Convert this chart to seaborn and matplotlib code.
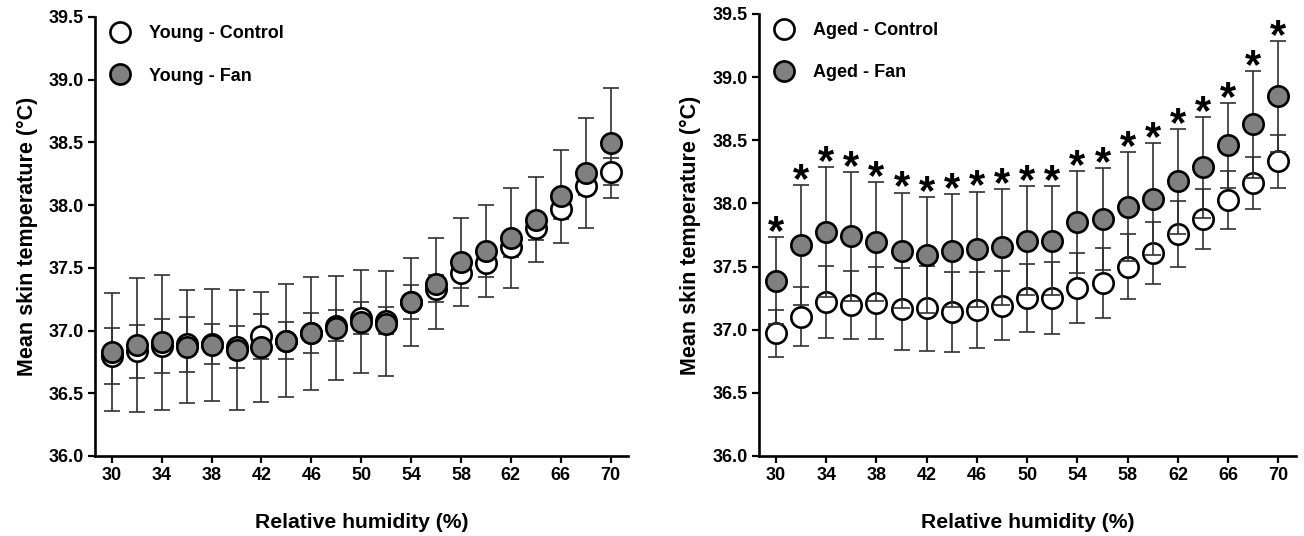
import numpy as np
import matplotlib
matplotlib.use("Agg")
import matplotlib.pyplot as plt
import seaborn as sns
from matplotlib.lines import Line2D

# relative humidity steps (%)
rh = [30, 32, 34, 36, 38, 40, 42, 44, 46, 48, 50, 52, 54, 56, 58, 60, 62, 64, 66, 68, 70]

# young group
young_ctrl = [36.795, 36.835, 36.88, 36.89, 36.895, 36.87, 36.955, 36.92, 36.98, 37.04, 37.10,
              37.08, 37.225, 37.335, 37.457, 37.537, 37.67, 37.816, 37.967, 38.156, 38.267]
young_ctrl_sd = [0.225, 0.21, 0.215, 0.22, 0.16, 0.17, 0.18, 0.145, 0.16, 0.12, 0.13,
                 0.11, 0.135, 0.105, 0.12, 0.107, 0.08, 0.096, 0.077, 0.076, 0.11]
young_fan = [36.83, 36.885, 36.905, 36.87, 36.885, 36.845, 36.87, 36.92, 36.98, 37.02, 37.07,
             37.055, 37.23, 37.375, 37.545, 37.635, 37.74, 37.885, 38.07, 38.255, 38.495]
young_fan_sd = [0.47, 0.535, 0.54, 0.45, 0.445, 0.475, 0.44, 0.45, 0.45, 0.415, 0.41,
                0.42, 0.35, 0.365, 0.35, 0.37, 0.40, 0.34, 0.37, 0.44, 0.44]

# aged group
aged_ctrl = [36.972, 37.104, 37.222, 37.198, 37.21, 37.165, 37.17, 37.137, 37.155, 37.19, 37.25,
             37.25, 37.329, 37.368, 37.5, 37.606, 37.757, 37.878, 38.029, 38.161, 38.332]
aged_ctrl_sd = [0.185, 0.237, 0.285, 0.27, 0.285, 0.325, 0.337, 0.316, 0.30, 0.275, 0.27,
                0.287, 0.275, 0.277, 0.258, 0.246, 0.26, 0.24, 0.23, 0.205, 0.207]
aged_fan = [37.389, 37.672, 37.772, 37.738, 37.698, 37.627, 37.593, 37.627, 37.638, 37.654, 37.706,
            37.706, 37.849, 37.875, 37.975, 38.036, 38.174, 38.285, 38.459, 38.628, 38.847]
aged_fan_sd = [0.344, 0.475, 0.513, 0.507, 0.468, 0.459, 0.457, 0.447, 0.456, 0.462, 0.428,
               0.434, 0.404, 0.405, 0.431, 0.442, 0.417, 0.399, 0.336, 0.423, 0.436]
aged_sig = [True] * 21

x_ticks = [30, 34, 38, 42, 46, 50, 54, 58, 62, 66, 70]
y_ticks = [36.0, 36.5, 37.0, 37.5, 38.0, 38.5, 39.0, 39.5]

sns.set_theme(style="ticks")
plt.rcParams['font.family'] = ['Liberation Sans', 'DejaVu Sans']
plt.rcParams['font.weight'] = 'bold'
plt.rcParams['axes.labelweight'] = 'bold'
plt.rcParams['text.color'] = 'black'
plt.rcParams['axes.labelcolor'] = 'black'

GRAY = '#808080'
BAR = '#303030'

fig = plt.figure(figsize=(13.04, 5.36), dpi=100)
ax1 = fig.add_axes([0.0729, 0.1493, 0.4087, 0.819])
ax2 = fig.add_axes([0.582, 0.1493, 0.4119, 0.8246])


def draw_panel(ax, ctrl, ctrl_sd, fan, fan_sd, labels, legend_y, sig=None, caps_over_ctrl=False):
    eb_kw = dict(fmt='none', ecolor=BAR, elinewidth=1.2, capsize=6, capthick=1.2)
    ax.errorbar(rh, ctrl, yerr=ctrl_sd, zorder=2, **eb_kw)
    ax.errorbar(rh, fan, yerr=fan_sd, zorder=5 if caps_over_ctrl else 2, **eb_kw)
    sns.scatterplot(x=rh, y=ctrl, ax=ax, s=215, color='white', edgecolor='black',
                    linewidth=1.9, zorder=4, legend=False)
    sns.scatterplot(x=rh, y=fan, ax=ax, s=215, color=GRAY, edgecolor='black',
                    linewidth=1.9, zorder=6, legend=False)
    if sig is not None:
        for xi, m, sd, s in zip(rh, fan, fan_sd, sig):
            if s:
                ax.annotate('*', (xi, m + sd), xytext=(0, -5), textcoords='offset points',
                            ha='center', va='baseline', fontsize=30, fontweight='bold',
                            color='black', zorder=7)
    ax.set_xlim(28.65, 71.4)
    ax.set_ylim(36.0, 39.5)
    ax.set_xticks(x_ticks)
    ax.set_yticks(y_ticks)
    ax.set_yticklabels([f"{v:.1f}" for v in y_ticks])
    ax.tick_params(axis='both', direction='out', length=5, width=1.6, labelsize=13,
                   color='black', labelcolor='black', pad=3)
    for lab in ax.get_xticklabels() + ax.get_yticklabels():
        lab.set_fontweight('bold')
    for side in ['left', 'bottom']:
        ax.spines[side].set_linewidth(1.9)
        ax.spines[side].set_color('black')
    sns.despine(ax=ax)
    ax.set_xlabel('Relative humidity (%)', fontsize=15.2, fontweight='bold', labelpad=21,
                  color='black')
    ax.set_ylabel('Mean skin temperature (°C)', fontsize=15.5, fontweight='bold', labelpad=8,
                  color='black')
    handles = [
        Line2D([], [], marker='o', linestyle='none', markersize=14.5, markerfacecolor='white',
               markeredgecolor='black', markeredgewidth=1.9),
        Line2D([], [], marker='o', linestyle='none', markersize=14.5, markerfacecolor=GRAY,
               markeredgecolor='black', markeredgewidth=1.9),
    ]
    leg = ax.legend(handles, labels, loc='upper left', bbox_to_anchor=(0.0, legend_y),
                    frameon=False, prop={'size': 13, 'weight': 'bold'}, handletextpad=0.9,
                    labelspacing=1.4, borderaxespad=0.3, handlelength=1.4)
    for t in leg.get_texts():
        t.set_color('black')


draw_panel(ax1, young_ctrl, young_ctrl_sd, young_fan, young_fan_sd,
           ['Young - Control', 'Young - Fan'], 1.01)
draw_panel(ax2, aged_ctrl, aged_ctrl_sd, aged_fan, aged_fan_sd,
           ['Aged - Control', 'Aged - Fan'], 1.01, sig=aged_sig, caps_over_ctrl=True)

fig.savefig('out.png', dpi=100, facecolor='white')
